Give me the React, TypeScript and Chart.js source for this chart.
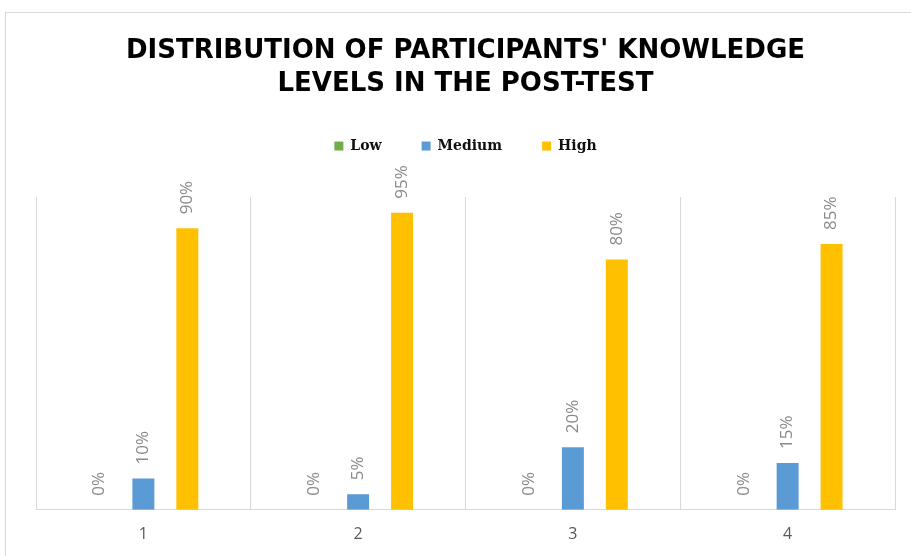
import React, { useEffect, useRef } from "react";
import { Chart, registerables } from "chart.js";

Chart.register(...registerables);

const categories = ["1", "2", "3", "4"];
const lowValues = [0, 0, 0, 0];
const mediumValues = [10, 5, 20, 15];
const highValues = [90, 95, 80, 85];
const titleLines = ["DISTRIBUTION OF PARTICIPANTS' KNOWLEDGE", "LEVELS IN THE POST-TEST"];

const valueLabels = {
  id: "valueLabels",
  afterDatasetsDraw(chart: any) {
    const ctx = chart.ctx;
    ctx.save();
    ctx.fillStyle = "#8a8a8a";
    ctx.font = "17px 'Open Sans'";
    ctx.textAlign = "left";
    ctx.textBaseline = "middle";
    chart.data.datasets.forEach((ds: any, di: number) => {
      const meta = chart.getDatasetMeta(di);
      meta.data.forEach((bar: any, i: number) => {
        ctx.save();
        ctx.translate(bar.x, bar.y - 14);
        ctx.rotate(-Math.PI / 2);
        ctx.fillText(ds.data[i] + "%", 0, 0);
        ctx.restore();
      });
    });
    ctx.restore();
  },
};

const legendGap = {
  id: "legendGap",
  beforeInit(chart: any) {
    const orig = chart.legend.fit;
    chart.legend.fit = function () {
      orig.bind(chart.legend)();
      this.height += 34;
    };
  },
};

export default function App() {
  const ref = useRef<HTMLCanvasElement>(null);
  useEffect(() => {
    const chart = new Chart(ref.current!, {
      type: "bar",
      data: {
        labels: categories,
        datasets: [
          { label: "Low", data: lowValues, backgroundColor: "#70ad47" },
          { label: "Medium", data: mediumValues, backgroundColor: "#5b9bd5" },
          { label: "High", data: highValues, backgroundColor: "#ffc000" },
        ],
      },
      options: {
        animation: false,
        responsive: false,
        layout: { padding: { top: 30, left: 36, right: 16, bottom: -3 } },
        datasets: { bar: { categoryPercentage: 0.614, barPercentage: 0.5 } },
        plugins: {
          title: {
            display: true,
            text: titleLines,
            color: "#000",
            font: { family: "'DejaVu Sans'", size: 26, weight: "bold", lineHeight: 1.27 },
            padding: { top: 5, bottom: -2 },
          },
          legend: {
            display: true,
            labels: {
              boxWidth: 9,
              boxHeight: 9,
              padding: 40,
              color: "#111",
              font: { family: "'DejaVu Serif'", size: 14, weight: "bold" },
            },
          },
          tooltip: { enabled: false },
        },
        scales: {
          x: {
            offset: true,
            grid: { display: true, color: "#d9d9d9", drawTicks: false, offset: true },
            border: { display: true, color: "#d9d9d9" },
            ticks: { color: "#595959", font: { family: "'Open Sans'", size: 16 }, padding: 15 },
          },
          y: { display: false, min: 0, max: 100 },
        },
      },
      plugins: [valueLabels, legendGap],
    });
    return () => chart.destroy();
  }, []);
  return (
    <div style={{ position: "fixed", left: 0, top: 0, width: 911, height: 556, background: "#fff", overflow: "hidden" }}>
      <div style={{ position: "absolute", left: 5, top: 12, width: 920, height: 600, border: "1px solid #d9d9d9" }} />
      <canvas ref={ref} width={911} height={556} style={{ position: "absolute", left: 0, top: 0 }} />
    </div>
  );
}
